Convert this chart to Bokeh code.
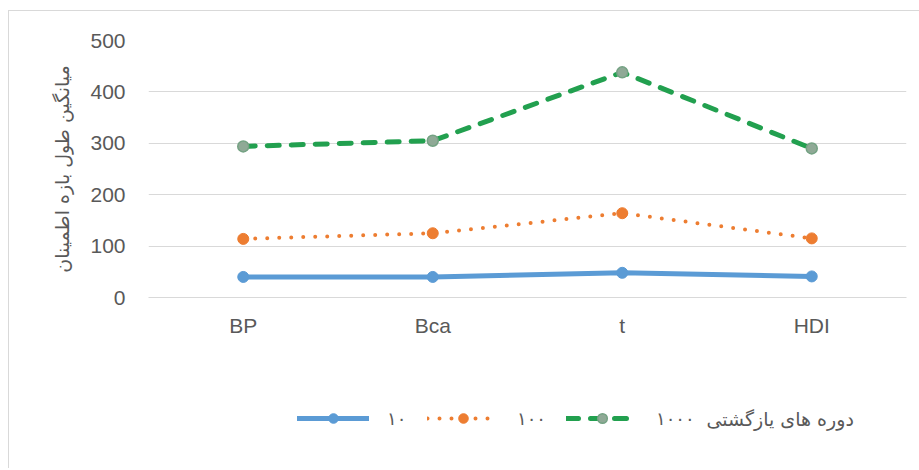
from bokeh.plotting import figure
from bokeh.layouts import column
from bokeh.models import FactorRange, Range1d, Legend, LegendItem, Label, FixedTicker, ColumnDataSource
from bokeh.embed import file_html
from bokeh.resources import INLINE

# Mean confidence-interval length per method, for each number of resamples
methods = ["BP", "Bca", "t", "HDI"]
mean_10 = [40, 40, 48, 41]
mean_100 = [114, 125, 164, 115]
mean_1000 = [294, 305, 438, 290]
y_ticks = [0, 100, 200, 300, 400, 500]
series_labels = ["۱۰", "۱۰۰", "۱۰۰۰"]
legend_title = "دوره های یازگشتی"
y_title = "میانگین طول بازه اطمینان"

TEXT = "#595959"
GRID = "#D9D9D9"
LATIN = "Liberation Sans"
PERSIAN = "DejaVu Sans"

BLUE = "#5B9BD5"
ORANGE = "#ED7D31"
GREEN = "#22A04F"
GREEN_MARK_FILL = "#8FA996"
GREEN_MARK_LINE = "#74A283"

# ---- main chart -------------------------------------------------------------
p = figure(
    x_range=FactorRange(*methods, range_padding=0),
    y_range=Range1d(0, 500),
    width=911, height=350,
    min_border_left=139, min_border_right=14,
    min_border_top=29, min_border_bottom=64,
    output_backend="svg", toolbar_location=None,
)
p.margin = (10, 0, 0, 8)
p.styles = {"border-left": "1px solid #d9d9d9", "border-top": "1px solid #d9d9d9"}
p.outline_line_color = None
p.border_fill_color = "white"

p.xgrid.grid_line_color = None
p.ygrid.grid_line_color = GRID

p.yaxis.ticker = FixedTicker(ticks=y_ticks)
p.yaxis.axis_line_color = None
p.yaxis.major_tick_line_color = None
p.yaxis.minor_tick_line_color = None
p.yaxis.major_label_standoff = 17
p.yaxis.major_label_text_font = LATIN
p.yaxis.major_label_text_font_size = "21px"
p.yaxis.major_label_text_color = TEXT
p.yaxis.axis_label = y_title
p.yaxis.axis_label_text_font = PERSIAN
p.yaxis.axis_label_text_font_style = "normal"
p.yaxis.axis_label_text_font_size = "19px"
p.yaxis.axis_label_text_color = TEXT
p.yaxis.axis_label_standoff = 14

p.xaxis.axis_line_color = GRID
p.xaxis.major_tick_line_color = None
p.xaxis.minor_tick_line_color = None
p.xaxis.major_label_standoff = 10
p.xaxis.major_label_text_font = LATIN
p.xaxis.major_label_text_font_size = "21px"
p.xaxis.major_label_text_color = TEXT

src = ColumnDataSource(dict(method=methods, s10=mean_10, s100=mean_100, s1000=mean_1000))

STYLE_10 = dict(line_color=BLUE, line_width=5, line_cap="round")
STYLE_100 = dict(line_color=ORANGE, line_width=4, line_dash="0 12", line_cap="round")
STYLE_1000 = dict(line_color=GREEN, line_width=5, line_dash="12 12", line_cap="round")
MARK_10 = dict(size=11, fill_color=BLUE, line_color=BLUE)
MARK_100 = dict(size=11, fill_color=ORANGE, line_color=ORANGE)
MARK_1000 = dict(size=11, fill_color=GREEN_MARK_FILL, line_color=GREEN_MARK_LINE, line_width=1.5)

p.line("method", "s10", source=src, **STYLE_10)
p.scatter("method", "s10", source=src, **MARK_10)
p.line("method", "s100", source=src, **STYLE_100)
p.scatter("method", "s100", source=src, **MARK_100)
p.line("method", "s1000", source=src, **STYLE_1000)
p.scatter("method", "s1000", source=src, **MARK_1000)

# ---- legend strip (frame is aligned with the chart frame above) ---------------
q = figure(
    x_range=Range1d(0, 758), y_range=Range1d(0, 108),
    width=911, height=108,
    min_border=0, x_axis_type=None, y_axis_type=None,
    output_backend="svg", toolbar_location=None,
)
q.margin = (0, 0, 0, 8)
q.styles = {"border-left": "1px solid #d9d9d9"}
q.outline_line_color = None
q.grid.visible = False
q.border_fill_color = "white"

# key-only renderers: a single undefined point, so nothing is drawn in the strip itself
nan = float("nan")
key = dict(x=[nan], y=[nan])
k10 = [q.line(**key, **STYLE_10), q.scatter(**key, **MARK_10)]
k100 = [q.line(**key, **STYLE_100), q.scatter(**key, **MARK_100)]
k1000 = [q.line(**key, **STYLE_1000), q.scatter(**key, **MARK_1000)]

legend = Legend(
    items=[
        LegendItem(label=series_labels[0], renderers=k10),
        LegendItem(label=series_labels[1], renderers=k100),
        LegendItem(label=series_labels[2], renderers=k1000),
    ],
    orientation="horizontal",
    location=(149, 38),
    glyph_width=72, glyph_height=24, label_standoff=18, spacing=20,
    padding=0, margin=0,
    label_text_font=PERSIAN, label_text_font_size="18px", label_text_color=TEXT,
    border_line_color=None, background_fill_alpha=0,
)
q.add_layout(legend, "center")

q.add_layout(Label(
    x=558, y=50, x_units="screen", y_units="screen",
    text=legend_title, text_font=PERSIAN, text_font_size="19px",
    text_color=TEXT, text_align="left", text_baseline="middle",
))

layout = column(p, q, spacing=0)
open("out.html", "w").write(file_html(layout, INLINE))
